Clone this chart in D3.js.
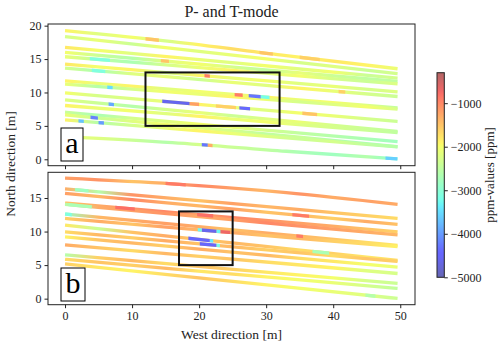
<!DOCTYPE html>
<html><head><meta charset="utf-8">
<script src="https://cdn.jsdelivr.net/npm/d3@7"></script>
<style>body{margin:0;background:#fff}svg{display:block}</style>
</head><body><svg id="c" width="500" height="348" font-family="Liberation Serif, DejaVu Serif, serif"></svg>
<script>
// ---------- data ----------
const title = "P- and T-mode";
const xLabel = "West direction [m]";
const yLabel = "North direction [m]";
const cbLabel = "ppm-values [ppm]";
const xTicks = [0,10,20,30,40,50];
const yTicksA = [0,5,10,15,20];
const yTicksB = [0,5,10,15];
const cbTicks = [-1000,-2000,-3000,-4000,-5000];
const vMin = -5000, vMax = -300;
const knotX = [0,16,33,49.6];                 // track knots (m)
const sampleX = [0,5,10,15,20,25,30,35,40,45,50]; // value samples along tracks (m)

// panel a tracks: y at knotX
const tracksA = [
 [19.25,17.6,15.5,13.55],[18.35,16.6,14.7,12.8],[16.75,15.3,13.7,12.15],[16.0,14.6,13.1,11.65],
 [15.35,14.05,12.65,11.3],[14.25,12.9,11.5,10.1],[13.65,12.3,10.8,9.4],[11.75,10.45,9.05,7.7],
 [11.25,10.05,8.75,7.5],[9.95,8.55,7.1,5.65],[8.9,7.35,5.75,4.15],[8.05,6.75,5.35,4.0],
 [7.05,5.6,4.1,2.65],[6.65,5.1,3.5,1.9],[5.9,4.6,3.2,1.85],[3.4,2.5,1.2,0.05]
];
const valuesA = [
 [-1900,-2200,-2000,-2300,-1900,-1700,-1800,-1900,-1800,-1900,-2100],
 [-2300,-2100,-2400,-2000,-2200,-2100,-2000,-2300,-2200,-2400,-2300],
 [-1800,-2000,-2200,-1900,-2100,-2200,-2000,-2200,-2000,-2400,-2300],
 [-2000,-2400,-2600,-2200,-2000,-2300,-2500,-2100,-2400,-2500,-2500],
 [-2100,-2500,-2700,-2300,-2100,-1900,-2200,-2000,-2300,-2400,-2200],
 [-1800,-2000,-1900,-2300,-1900,-2100,-2000,-2200,-2100,-2300,-2200],
 [-2300,-2700,-2200,-2100,-2400,-2100,-2200,-1900,-2100,-2300,-2400],
 [-1900,-2100,-1900,-2200,-2000,-2100,-1900,-2100,-2000,-2200,-2500],
 [-2100,-2600,-2300,-2000,-2100,-1900,-2100,-2300,-2200,-2000,-2300],
 [-2000,-2300,-2200,-2100,-1900,-2100,-2200,-2000,-2100,-2300,-2400],
 [-2200,-2400,-2600,-2300,-2100,-2400,-2200,-2100,-2300,-2400,-2500],
 [-1900,-2100,-2000,-2200,-1900,-2100,-2000,-2200,-2300,-2400,-2500],
 [-2400,-2700,-2300,-2200,-2000,-2100,-2300,-2500,-2600,-2700,-2800],
 [-2100,-2400,-2200,-2000,-2200,-2300,-2500,-2400,-2600,-2700,-2700],
 [-1900,-2600,-2300,-2100,-1900,-2100,-2200,-2400,-2300,-2500,-2600],
 [-2100,-2200,-2400,-2600,-2300,-2400,-2500,-2700,-2800,-2600,-3000]
];
// spots: [track, x0, x1, value]
const spotsA = [
 [9,14.5,18.6,-4600],[9,18.6,20.0,-1200],[9,22.5,25.5,-1600],[9,26.0,27.6,-4400],
 [7,25.3,26.5,-900],[7,27.4,29.2,-4300],[7,29.2,30.5,-3200],
 [13,3.8,4.9,-4200],[14,2.0,2.8,-3700],[14,5.0,5.8,-4000],[10,6.5,7.3,-3900],
 [8,6.3,7.1,-3500],[6,4.0,6.0,-3100],[4,3.7,6.7,-3100],
 [15,20.4,21.3,-4300],[15,21.3,22.0,-1300],[15,47.8,49.6,-3600],
 [5,20.8,21.6,-900],[3,14.3,15.5,-1500],[0,12,14,-1500],[0,29,31,-1500],[0,35,38,-1600],
 [9,35.4,37.6,-1500],[6,40.8,41.8,-1600]
];
const rectA = [12,32,5,13];

// panel b tracks
const tracksB = [
 [17.95,17.1,15.8,14.05],[16.37,14.95,13.45,11.95],[15.68,14.2,12.6,11.06],[14.25,12.85,11.4,9.95],
 [14.05,12.6,11.0,9.5],[12.6,11.1,9.5,7.95],[11.95,10.6,9.15,7.75],[10.96,9.25,7.45,5.7],
 [9.97,8.55,7.0,5.55],[9.22,7.75,6.2,4.7],[8.02,6.65,5.2,3.75],[6.53,5.15,3.7,2.27],
 [5.87,4.45,2.98,1.52],[5.17,3.5,1.75,0.03]
];
const valuesB = [
 [-1200,-1100,-1500,-1300,-1000,-1200,-1400,-1100,-1300,-1200,-1300],
 [-1300,-2600,-1100,-1300,-1500,-1200,-1400,-1300,-1500,-1600,-1700],
 [-1200,-1400,-1000,-1300,-1400,-1200,-1500,-1400,-1600,-1300,-1500],
 [-1500,-1300,-1100,-1000,-1200,-1000,-1100,-1200,-1300,-1500,-1600],
 [-2600,-1300,-1200,-1100,-1300,-1200,-1000,-1100,-1200,-1300,-1400],
 [-2900,-1400,-1300,-1200,-1300,-1500,-1300,-1400,-1500,-1700,-1800],
 [-1600,-1300,-1500,-1200,-1400,-1300,-1500,-1400,-1600,-1700,-1900],
 [-1800,-2400,-1500,-1300,-1600,-1400,-1500,-1700,-1600,-1800,-1700],
 [-1700,-1400,-1600,-1300,-1500,-1400,-1600,-1500,-1700,-1500,-1600],
 [-1900,-1500,-1400,-1600,-1300,-1500,-1400,-1700,-1800,-2000,-2100],
 [-1300,-1500,-1700,-1400,-1600,-1500,-1700,-1800,-1900,-2200,-2300],
 [-2600,-1600,-1400,-1700,-1500,-1600,-1800,-1900,-2000,-2300,-2400],
 [-1700,-1500,-1600,-1400,-1800,-1700,-1900,-2000,-2100,-2300,-2500],
 [-1600,-1800,-1900,-1700,-1500,-1700,-1900,-2000,-2100,-2200,-2400]
];
const spotsB = [
 [6,20.4,22.6,-4600],[6,19.8,20.4,-3300],[6,22.6,23.2,-3300],[6,23.2,24.6,-700],
 [7,18.4,21.6,-4500],[7,21.6,22.1,-3400],[8,20.1,22.6,-4500],[8,22.6,23.1,-3200],
 [3,19.7,22.1,-800],[1,1.5,3.5,-2800],[4,0.5,4.0,-2700],[5,0,1.0,-3100],
 [7,36.9,39.4,-2700],[13,44.8,46.3,-2600],[2,33.9,36.4,-900],[5,34.5,35.5,-900],[3,7.5,10.4,-800],
 [0,15,18,-900]
];
const rectB = [17,25,5,13];

// ---------- drawing ----------
const FONT = "Liberation Serif, DejaVu Serif, serif";
const svg = d3.select("#c");
const defs = svg.append("defs");
const x = d3.scaleLinear().domain([-2.54,52.2]).range([48,415]);
const yA = d3.scaleLinear().domain([-0.96,20.25]).range([165.7,24]);
const yB = d3.scaleLinear().domain([-0.9,18.83]).range([304.7,172.3]);

const jetR = d3.scaleLinear().domain([0,0.35,0.66,0.89,1]).range([0,0,1,1,0.5]).clamp(true);
const jetG = d3.scaleLinear().domain([0,0.125,0.375,0.64,0.91,1]).range([0,0,1,1,0,0]).clamp(true);
const jetB = d3.scaleLinear().domain([0,0.11,0.34,0.65,1]).range([0.5,1,1,0,0]).clamp(true);
const norm = d3.scaleLinear().domain([vMin,vMax]).range([0,1]).clamp(true);
const alpha = 0.6;
function cmap(v){
  const t = norm(v);
  const f = c => Math.round(255*(c*alpha + (1-alpha)));
  return d3.rgb(f(jetR(t)), f(jetG(t)), f(jetB(t))).formatHex();
}

let gid = 0;
function panel(tracks, values, spots, y, rect, yTicks, showXLabels, label, boxY){
  const g = svg.append("g");
  const [r0,r1] = y.range();
  const line = d3.line().x(d=>x(d[0])).y(d=>y(d[1])).curve(d3.curveMonotoneX);
  tracks.forEach((tr,i)=>{
    const id = "g"+(gid++);
    const grad = defs.append("linearGradient").attr("id",id).attr("gradientUnits","userSpaceOnUse")
      .attr("x1",x(sampleX[0])).attr("x2",x(sampleX[sampleX.length-1])).attr("y1",0).attr("y2",0);
    values[i].forEach((v,k)=>grad.append("stop").attr("offset",(sampleX[k]-sampleX[0])/(sampleX[sampleX.length-1]-sampleX[0])).attr("stop-color",cmap(v)));
    const pts = tr.map((yy,k)=>[knotX[k],yy]);
    g.append("path").attr("d",line(pts)).attr("fill","none").attr("stroke","url(#"+id+")")
      .attr("stroke-width",3.3);
  });
  spots.forEach(s=>{
    const [ti,x0,x1,v] = s;
    const id = "cl"+(gid++);
    defs.append("clipPath").attr("id",id).append("rect")
      .attr("x",x(x0)).attr("width",x(x1)-x(x0)).attr("y",r1).attr("height",r0-r1);
    const pts = tracks[ti].map((yy,k)=>[knotX[k],yy]);
    g.append("path").attr("d",line(pts)).attr("fill","none").attr("stroke",cmap(v))
      .attr("stroke-width",3.3).attr("clip-path","url(#"+id+")");
  });
  g.append("rect").attr("x",x(rect[0])).attr("y",y(rect[3])).attr("width",x(rect[1])-x(rect[0]))
    .attr("height",y(rect[2])-y(rect[3])).attr("fill","none").attr("stroke","#111").attr("stroke-width",2);
  const bw = label==="a"?22:24;
  g.append("rect").attr("x",61).attr("y",boxY).attr("width",bw).attr("height",33)
    .attr("fill","#fff").attr("stroke","#000").attr("stroke-width",1);
  g.append("text").attr("x",61+bw/2).attr("y",boxY+25).attr("text-anchor","middle")
    .attr("font-size",30).attr("font-family",FONT).text(label);
  g.append("rect").attr("x",48).attr("y",r1).attr("width",367).attr("height",r0-r1)
    .attr("fill","none").attr("stroke","#222").attr("stroke-width",1);
  const ax = g.append("g").attr("transform",`translate(48,0)`)
    .call(d3.axisLeft(y).tickValues(yTicks).tickSize(3.5).tickPadding(3).tickFormat(d3.format("d")));
  ax.select(".domain").remove();
  const bx = g.append("g").attr("transform",`translate(0,${r0})`)
    .call(d3.axisBottom(x).tickValues(xTicks).tickSize(3.5).tickPadding(3).tickFormat(showXLabels?d3.format("d"):""));
  bx.select(".domain").remove();
  [ax,bx].forEach(a=>a.attr("font-family",FONT).attr("font-size",12));
  g.selectAll(".tick text").attr("fill","#222");
  g.selectAll(".tick line").attr("stroke","#222");
}
panel(tracksA, valuesA, spotsA, yA, rectA, yTicksA, false, "a", 128);
panel(tracksB, valuesB, spotsB, yB, rectB, yTicksB, true, "b", 268);

svg.append("text").attr("x",231.5).attr("y",17).attr("text-anchor","middle").attr("font-size",16).attr("fill","#222").text(title);
svg.append("text").attr("x",231.5).attr("y",339).attr("text-anchor","middle").attr("font-size",13.5).attr("fill","#222").text(xLabel);
svg.append("text").attr("transform","translate(15,164) rotate(-90)").attr("text-anchor","middle").attr("font-size",13.5).attr("fill","#222").text(yLabel);

// colorbar
const cb = d3.scaleLinear().domain([vMin,vMax]).range([277.3,72.7]);
const cg = defs.append("linearGradient").attr("id","cbg").attr("x1",0).attr("x2",0).attr("y1",1).attr("y2",0);
d3.range(0,1.0001,0.02).forEach(t=>cg.append("stop").attr("offset",t).attr("stop-color",cmap(vMin+t*(vMax-vMin))));
svg.append("rect").attr("x",437).attr("y",72.7).attr("width",7.3).attr("height",204.6).attr("fill","url(#cbg)")
  .attr("stroke","#222").attr("stroke-width",1);
const cax = svg.append("g").attr("transform","translate(444.3,0)")
  .call(d3.axisRight(cb).tickValues(cbTicks).tickSize(3.5).tickPadding(3).tickFormat(d3.format("d")));
cax.select(".domain").remove();
cax.attr("font-family",FONT).attr("font-size",12);
cax.selectAll(".tick text").attr("fill","#222");
cax.selectAll(".tick line").attr("stroke","#222");
svg.append("text").attr("transform","translate(494,175) rotate(-90)").attr("text-anchor","middle").attr("font-size",13).attr("fill","#222").text(cbLabel);
</script></body></html>
